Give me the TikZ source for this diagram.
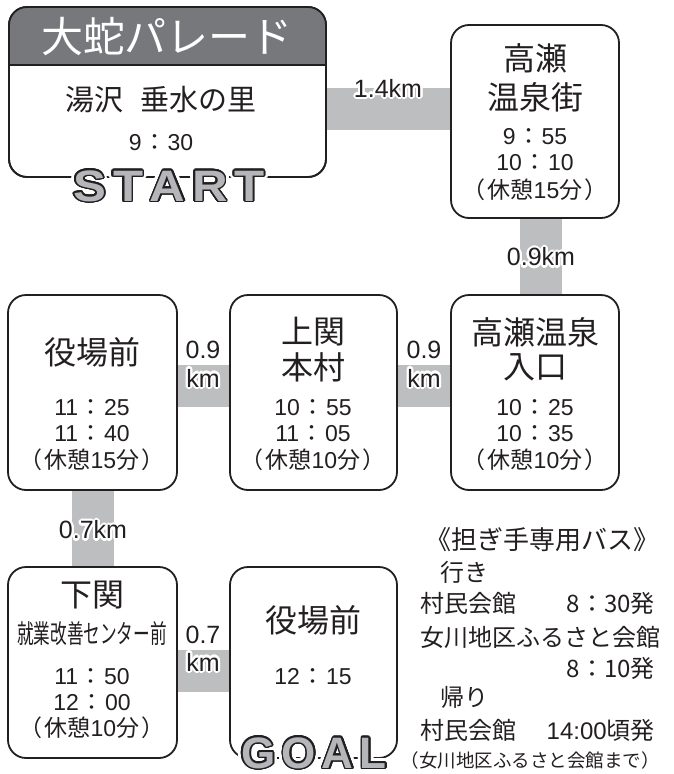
\documentclass[tikz,border=0pt]{standalone}
\usepackage{fontspec}
\usepackage{graphicx}
\setmainfont{Liberation Sans}
\newfontfamily\jp{Noto Sans CJK JP}
\usetikzlibrary{calc,backgrounds}
\definecolor{ink}{HTML}{231F20}
\definecolor{bandgray}{HTML}{BCBEC0}
\definecolor{hdrgray}{HTML}{77787B}
\definecolor{lettergray}{HTML}{B4B6B9}
\newcommand\tmx[2]{#1\hspace{1.5pt}{\jp ：}\hspace{1.5pt}#2}
\newcommand\restx[1]{{\jp （}\hspace{2pt}{\jp 休憩}#1{\jp 分}\hspace{2pt}{\jp ）}}
\newcommand\halotext[5]{%
  \foreach \hang in {0,20,...,340} {\node[#1, text=white, shift={(\hang:#4)}] at #3 {#5};}
  \node[#1] (#2) at #3 {#5};}
\newcommand\startword{\scalebox{1.12}[1]{S\kern6pt T\kern6pt A\kern6pt R\kern6pt T}}
\newcommand\goalword{G\kern6pt O\kern6pt A\kern6pt L}
\tikzset{
  box/.style={draw=ink, line width=1.8pt, fill=white, rounded corners=18pt, rectangle, inner sep=0pt, outer sep=0pt},
  band/.style={draw=bandgray, line width=42pt},
  txt/.style={text=ink, inner sep=0pt, anchor=center},
  stname/.style={txt, font=\jp\fontsize{32}{32}\selectfont},
  tline/.style={txt, font=\fontsize{23}{23}\selectfont},
  bus/.style={txt, font=\jp\fontsize{24}{24}\selectfont},
  kmlbl/.style={txt, font=\fontsize{25}{25}\selectfont},
  bigword/.style={txt, font=\fontsize{44}{44}\selectfont\bfseries},
}
\begin{document}
\begin{tikzpicture}[x=1pt,y=-1pt]
\useasboundingbox (0,0) rectangle (673,774);
% boxes
\node[box, minimum width=317pt, minimum height=170pt] (b1) at (167.5,92) {};
\begin{scope}
  \clip (0,0) rectangle (673,65);
  \fill[hdrgray, rounded corners=18pt] (b1.south west) rectangle (b1.north east);
\end{scope}
\draw[ink, line width=1.8pt, rounded corners=18pt] (b1.south west) rectangle (b1.north east);
\coordinate (hy) at (0,65);
\draw[ink, line width=1.8pt] (b1.west |- hy) -- (b1.east |- hy);
\node[box, minimum width=168pt, minimum height=193pt] (b2) at (535,121.5) {};
\node[box, minimum width=169pt, minimum height=195pt] (b3) at (92.5,392.5) {};
\node[box, minimum width=167pt, minimum height=195pt] (b4) at (313.5,392.5) {};
\node[box, minimum width=168pt, minimum height=195pt] (b5) at (535,392.5) {};
\node[box, minimum width=169pt, minimum height=191pt] (b6) at (92.5,662.5) {};
\node[box, minimum width=167pt, minimum height=191pt] (b7) at (313.5,662.5) {};
% bands
\coordinate (yA) at (0,109);
\coordinate (xB) at (541,0);
\coordinate (yC) at (0,386);
\coordinate (xE) at (93,0);
\coordinate (yF) at (0,671);
\begin{scope}[on background layer]
  \draw[band] (b1.east |- yA) -- (b2.west |- yA);
  \draw[band] (b2.south -| xB) -- (b5.north -| xB);
  \draw[band] (b3.east |- yC) -- (b4.west |- yC);
  \draw[band] (b4.east |- yC) -- (b5.west |- yC);
  \draw[band] (b3.south -| xE) -- (b6.north -| xE);
  \draw[band] (b6.east |- yF) -- (b7.west |- yF);
\end{scope}
% header and box 1
\node[txt, text=white, font=\jp\fontsize{42}{42}\selectfont] (hdrt) at (167,37) {大蛇パレード};
\node[txt, font=\jp\fontsize{29}{29}\selectfont] (n1) at (161,100) {湯沢\hspace{0.6em}垂水の里};
\node[tline] (t1) at (161,143) {\tmx{9}{30}};
% box 2
\node[stname] (n2a) at (535,58) {高瀬};
\node[stname] (n2b) at (535,97) {温泉街};
\node[tline] (t2a) at (535,137) {\tmx{9}{55}};
\node[tline] (t2b) at (535,163) {\tmx{10}{10}};
\node[tline] (t2c) at (535,190) {\restx{15}};
% box 3
\node[stname] (n3) at (92,352) {役場前};
\node[tline] (t3a) at (92,408) {\tmx{11}{25}};
\node[tline] (t3b) at (92,434) {\tmx{11}{40}};
\node[tline] (t3c) at (92,460) {\restx{15}};
% box 4
\node[stname] (n4a) at (313,332) {上関};
\node[stname] (n4b) at (313,367) {本村};
\node[tline] (t4a) at (313,408) {\tmx{10}{55}};
\node[tline] (t4b) at (313,434) {\tmx{11}{05}};
\node[tline] (t4c) at (313,460) {\restx{10}};
% box 5
\node[stname] (n5a) at (535,332) {高瀬温泉};
\node[stname] (n5b) at (535,367) {入口};
\node[tline] (t5a) at (535,408) {\tmx{10}{25}};
\node[tline] (t5b) at (535,434) {\tmx{10}{35}};
\node[tline] (t5c) at (535,460) {\restx{10}};
% box 6
\node[stname] (n6a) at (92,595) {下関};
\node[txt, font=\jp\fontsize{26}{26}\selectfont] (n6b) at (92,634) {\scalebox{0.64}[1]{就業改善センター前}};
\node[tline] (t6a) at (92,677) {\tmx{11}{50}};
\node[tline] (t6b) at (92,703) {\tmx{12}{00}};
\node[tline] (t6c) at (92,728) {\restx{10}};
% box 7
\node[stname] (n7) at (313,620) {役場前};
\node[tline] (t7) at (313,677) {\tmx{12}{15}};
% distance labels
\halotext{kmlbl}{dA}{(388,88)}{2.2pt}{1.4km}
\halotext{kmlbl}{dB}{(541,257)}{2.2pt}{0.9km}
\halotext{kmlbl}{dC1}{(203,350)}{2.2pt}{0.9}
\halotext{kmlbl}{dC2}{(203,378)}{2.2pt}{km}
\halotext{kmlbl}{dD1}{(424,350)}{2.2pt}{0.9}
\halotext{kmlbl}{dD2}{(424,378)}{2.2pt}{km}
\halotext{kmlbl}{dE}{(93,530)}{2.2pt}{0.7km}
\halotext{kmlbl}{dF1}{(203,635)}{2.2pt}{0.7}
\halotext{kmlbl}{dF2}{(203,662)}{2.2pt}{km}
% START
\foreach \hang in {0,15,...,345} {
  \node[bigword, text=white, shift={(\hang:4.5pt)}] at (169,186) {\startword};
  \node[bigword, text=white, shift={(\hang:3pt)}] at (169,186) {\startword};
}
\foreach \hang in {0,15,...,345} {
  \node[bigword, text=ink, shift={(\hang:1.6pt)}] at (169,186) {\startword};
}
\node[bigword, text=lettergray] (start) at (169,186) {\startword};
% GOAL
\foreach \hang in {0,15,...,345} {
  \node[bigword, text=white, shift={(\hang:4.5pt)}] at (314,753) {\goalword};
  \node[bigword, text=white, shift={(\hang:3pt)}] at (314,753) {\goalword};
}
\foreach \hang in {0,15,...,345} {
  \node[bigword, text=ink, shift={(\hang:1.6pt)}] at (314,753) {\goalword};
}
\node[bigword, text=lettergray] (goal) at (314,753) {\goalword};
% bus info
\node[txt, font=\jp\fontsize{26}{26}\selectfont] (bh) at (542,540) {《担ぎ手専用バス》};
\node[bus, anchor=west] (g1) at (440,572) {行き};
\node[bus, anchor=west] (g2) at (420,603) {村民会館};
\node[bus, anchor=east] (g3) at (655,603) {8{\jp ：}30{\jp 発}};
\node[bus, anchor=west] (g4) at (420,637) {女川地区ふるさと会館};
\node[bus, anchor=east] (g5) at (655,668) {8{\jp ：}10{\jp 発}};
\node[bus, anchor=west] (r1) at (440,697) {帰り};
\node[bus, anchor=west] (r2) at (420,730) {村民会館};
\node[bus, anchor=east] (r3) at (655,730) {{\fontspec{Liberation Sans}14:00}頃発};
\node[txt, font=\jp\fontsize{18.5}{18.5}\selectfont] (r4) at (530,760) {（女川地区ふるさと会館まで）};
\end{tikzpicture}
\end{document}
